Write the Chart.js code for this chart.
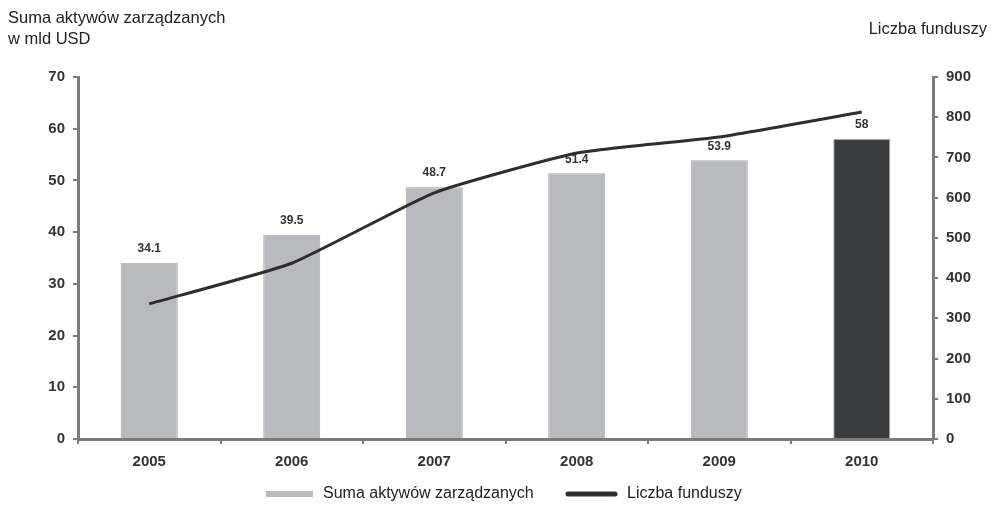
<!DOCTYPE html>
<html>
<head>
<meta charset="utf-8">
<script src="https://cdn.jsdelivr.net/npm/chart.js@4"></script>
<style>
  html, body { margin: 0; padding: 0; background: #fff; }
  #wrap { width: 993px; height: 506px; position: relative; }
</style>
</head>
<body>
<div id="wrap"><canvas id="fundusze"></canvas></div>
<script>
const years = ['2005', '2006', '2007', '2008', '2009', '2010'];
const aktywa = [34.1, 39.5, 48.7, 51.4, 53.9, 58];
const fundusze = [336, 437, 612, 711, 751, 813];
const barColors = ['#b9babd', '#b9babd', '#b9babd', '#b9babd', '#b9babd', '#3b3c3e'];

const FONT = '"Liberation Sans", Arial, sans-serif';
const AXIS = '#7b7b7b';
const TEXT = '#333333';

// value labels above the bars, drawn before the line so it passes over them
const barValues = {
    id: 'barValues',
    afterDatasetDraw(chart, args) {
        if (args.index !== 0) return;
        const ctx = chart.ctx;
        ctx.save();
        ctx.font = 'bold 12px ' + FONT;
        ctx.fillStyle = TEXT;
        ctx.textAlign = 'center';
        ctx.textBaseline = 'bottom';
        args.meta.data.forEach((bar, i) => {
            ctx.fillText(String(aktywa[i]), bar.x, bar.y - 8);
        });
        ctx.restore();
    }
};

// axis captions in the top corners and the legend row at the bottom
const captions = {
    id: 'captions',
    afterDraw(chart) {
        const ctx = chart.ctx;
        const ds = chart.data.datasets;
        ctx.save();
        ctx.font = '16.5px ' + FONT;
        ctx.fillStyle = '#222';
        ctx.textBaseline = 'middle';
        ctx.textAlign = 'left';
        ctx.fillText('Suma aktywów zarządzanych', 8, 18);
        ctx.fillText('w mld USD', 8, 39);
        ctx.textAlign = 'right';
        ctx.fillText('Liczba funduszy', 987, 29);

        // legend
        const y = 494;
        ctx.font = '16px ' + FONT;
        ctx.textAlign = 'left';
        ctx.fillStyle = ds[0].backgroundColor[0];
        ctx.fillRect(266, y - 3, 47, 6);
        ctx.fillStyle = '#222';
        ctx.fillText(ds[0].label, 323, y);
        ctx.strokeStyle = ds[1].borderColor;
        ctx.lineWidth = 5;
        ctx.lineCap = 'round';
        ctx.beginPath();
        ctx.moveTo(568, y);
        ctx.lineTo(615, y);
        ctx.stroke();
        ctx.fillText(ds[1].label, 627, y);
        ctx.restore();
    }
};

new Chart(document.getElementById('fundusze'), {
    type: 'bar',
    data: {
        labels: years,
        datasets: [{
            label: 'Suma aktywów zarządzanych',
            data: aktywa,
            backgroundColor: barColors,
            borderColor: '#a8a9ac',
            borderWidth: 1,
            barPercentage: 0.4,
            categoryPercentage: 1,
            yAxisID: 'y',
            order: 1
        }, {
            type: 'line',
            label: 'Liczba funduszy',
            data: fundusze,
            borderColor: '#2e2e2e',
            backgroundColor: '#2e2e2e',
            borderWidth: 3,
            tension: 0.15,
            pointRadius: 0,
            yAxisID: 'y1',
            order: 0
        }]
    },
    options: {
        responsive: true,
        maintainAspectRatio: false,
        animation: false,
        layout: { padding: { top: 77, left: 0, right: 0, bottom: 26 } },
        plugins: {
            tooltip: { enabled: false },
            legend: { display: false }
        },
        scales: {
            x: {
                offset: true,
                grid: { offset: true, drawOnChartArea: false, tickLength: 5, color: AXIS, lineWidth: 2 },
                border: { color: AXIS, width: 3 },
                ticks: { color: TEXT, font: { family: FONT, size: 15, weight: 'bold' }, padding: 9 }
            },
            y: {
                position: 'left',
                min: 0,
                max: 70,
                afterFit: s => { s.width = 78; },
                grid: { drawOnChartArea: false, tickLength: 5, color: AXIS, lineWidth: 2 },
                border: { color: AXIS, width: 3 },
                ticks: { stepSize: 10, color: TEXT, font: { family: FONT, size: 15, weight: 'bold' }, padding: 8 }
            },
            y1: {
                position: 'right',
                min: 0,
                max: 900,
                afterFit: s => { s.width = 60; },
                grid: { drawOnChartArea: false, tickLength: 5, color: AXIS, lineWidth: 2 },
                border: { color: AXIS, width: 3 },
                ticks: { stepSize: 100, color: TEXT, font: { family: FONT, size: 15, weight: 'bold' }, padding: 8 }
            }
        }
    },
    plugins: [barValues, captions]
});
</script>
</body>
</html>
